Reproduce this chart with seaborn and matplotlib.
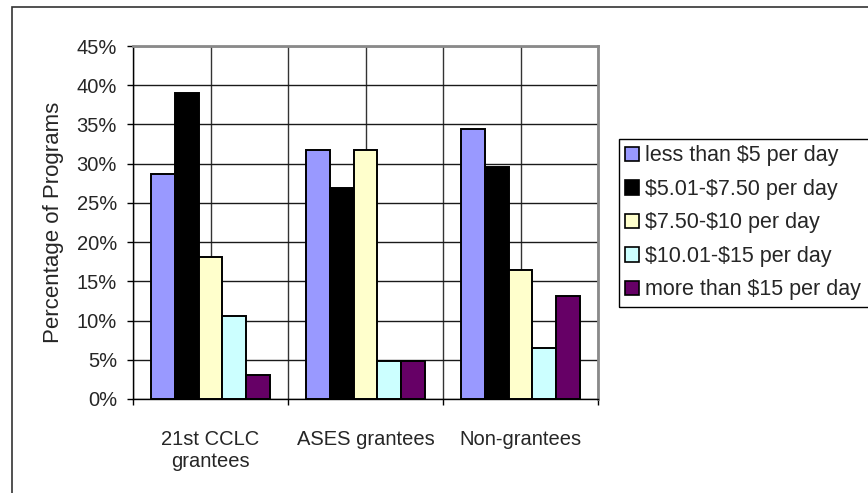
import numpy as np
import pandas as pd
import matplotlib
matplotlib.use("Agg")
import matplotlib.pyplot as plt
from matplotlib.patches import Rectangle, Patch
from matplotlib.ticker import FixedLocator, FuncFormatter
import seaborn as sns

# Program groups and daily cost brackets
groups = ["21st CCLC\ngrantees", "ASES grantees", "Non-grantees"]
brackets = [
    "less than $5 per day",
    "$5.01-$7.50 per day",
    "$7.50-$10 per day",
    "$10.01-$15 per day",
    "more than $15 per day",
]
# Percentage of programs in each bracket, one list per group
cclc = [28.7, 39.0, 18.1, 10.6, 3.0]
ases = [31.7, 26.9, 31.7, 4.8, 4.8]
non_grantees = [34.4, 29.6, 16.4, 6.5, 13.1]
colors = ["#9999FF", "#000000", "#FFFFCC", "#CCFFFF", "#660066"]
yticks = [0, 5, 10, 15, 20, 25, 30, 35, 40, 45]

rows = []
for g, vals in zip(groups, [cclc, ases, non_grantees]):
    for b, v in zip(brackets, vals):
        rows.append({"group": g, "bracket": b, "pct": v})
df = pd.DataFrame(rows)

sns.set_style("white")
plt.rcParams["font.family"] = ["Liberation Sans", "DejaVu Sans"]

W, H = 868, 493
fig = plt.figure(figsize=(W / 100, H / 100), dpi=100)
ax = fig.add_axes([133 / W, 1 - 399 / H, 465 / W, 353 / H])

sns.barplot(
    data=df, x="group", y="pct", hue="bracket", order=groups,
    hue_order=brackets, palette=colors, width=0.77, gap=0,
    edgecolor="black", linewidth=1.4, saturation=1, ax=ax,
    legend=False, zorder=3,
)

ax.set_ylim(0, 45)
ax.set_xlim(-0.5, len(groups) - 0.5)
ax.yaxis.set_major_locator(FixedLocator(yticks))
ax.yaxis.set_major_formatter(FuncFormatter(lambda v, p: f"{v:.0f}%"))
ax.tick_params(axis="y", which="major", length=4.5, width=1, color="black",
               direction="out", left=True, labelsize=14.5, pad=7)

# Category labels at centres, tick marks at the boundaries
centers = np.arange(len(groups))
bounds = np.arange(len(groups) + 1) - 0.5
ax.set_xticks(centers)
ax.set_xticklabels(groups)
ax.xaxis.set_minor_locator(FixedLocator(bounds))
ax.tick_params(axis="x", which="major", length=0, labelsize=14.5, pad=22)
ax.tick_params(axis="x", which="minor", length=4.5, width=1, color="black",
               direction="out", bottom=True)
for lbl in ax.get_xticklabels():
    lbl.set_linespacing(1.2)

ax.set_xlabel("")
ax.set_ylabel("Percentage of Programs", fontsize=16, labelpad=9)

# Grid: every 5% and every half category
ax.grid(axis="y", which="major", color="#1a1a1a", linewidth=1, zorder=0)
ax.grid(axis="x", which="both", color="#333333", linewidth=1, zorder=0)
ax.set_axisbelow(True)

for side in ["left", "bottom"]:
    ax.spines[side].set_color("black")
    ax.spines[side].set_linewidth(1)
for side in ["top", "right"]:
    ax.spines[side].set_color("#8a8a8a")
    ax.spines[side].set_linewidth(2)
for s in ax.spines.values():
    s.set_visible(True)
    s.set_zorder(4)

handles = [Patch(facecolor=c, edgecolor="black", linewidth=1.2) for c in colors]
labels = [b.replace("$", r"\$") for b in brackets]
leg = fig.legend(
    handles, labels, loc="upper left",
    bbox_to_anchor=(619 / W, 1 - 139 / H), bbox_transform=fig.transFigure,
    frameon=True, fancybox=False, fontsize=15.5,
    handlelength=0.65, handleheight=0.65, handletextpad=0.25,
    labelspacing=0.58, borderpad=0.3, borderaxespad=0,
)
leg.get_frame().set_visible(False)

# Legend box runs on past the right edge of the chart
fig.canvas.draw()
lb = leg.get_window_extent().transformed(fig.transFigure.inverted())
fig.patches.append(Rectangle((lb.x0, lb.y0), 1.0, lb.height,
                             transform=fig.transFigure, fill=False,
                             edgecolor="black", linewidth=1))

# Outer chart frame
fig.patches.append(Rectangle((12 / W, -0.2), 1.5, 1.2 - 7 / H,
                             transform=fig.transFigure, fill=False,
                             edgecolor="#333333", linewidth=1.2))

fig.savefig("out.png", dpi=100, facecolor="white")
